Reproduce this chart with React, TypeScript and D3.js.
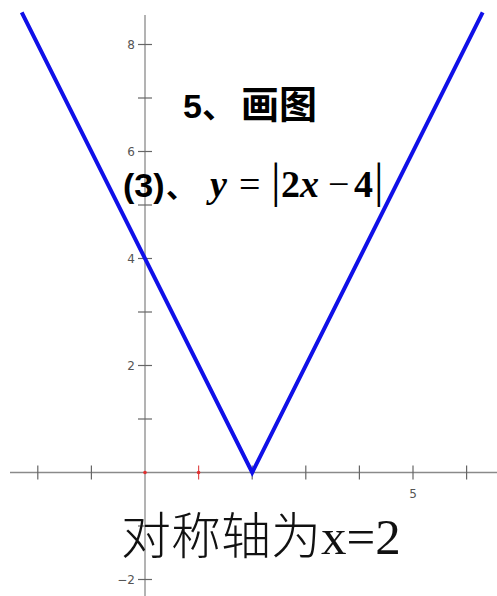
import * as d3 from "d3";
import { useEffect, useRef } from "react";

// graph of y = |2x - 4|
const lineX = [-2.3, 2, 6.3];
const lineY = [8.6, 0, 8.6];
const xTicks = [-2, -1, 1, 2, 3, 4, 5, 6];
const yTicks = [-2, -1, 1, 2, 3, 4, 5, 6, 7, 8];
const xLabels = [5];
const yLabels = [-2, 2, 4, 6, 8];
const redPoints = [0, 1];

const W = 497;
const H = 596;

export default function App() {
    const axisRef = useRef<SVGGElement>(null);

    const x = d3.scaleLinear().domain([0, 1]).range([145, 198.6]);
    const y = d3.scaleLinear().domain([0, 1]).range([472.5, 419]);

    const line = d3.line<number>()
        .x(d => x(lineX[d]))
        .y(d => y(lineY[d]));

    useEffect(() => {
        document.body.style.margin = "0";
        const g = d3.select(axisRef.current);
        g.selectAll("*").remove();
        const grey = "#8a8a8a";

        // x axis
        g.append("line")
            .attr("x1", 10).attr("x2", W)
            .attr("y1", y(0)).attr("y2", y(0))
            .attr("stroke", grey).attr("stroke-width", 1.3);
        g.selectAll(".xt").data(xTicks).join("line")
            .attr("x1", d => x(d)).attr("x2", d => x(d))
            .attr("y1", y(0) - 7).attr("y2", y(0) + 7)
            .attr("stroke", d => (d === 1 ? "#e05050" : "#666")).attr("stroke-width", 1.2);
        g.selectAll(".xl").data(xLabels).join("text")
            .attr("x", d => x(d)).attr("y", y(0) + 25)
            .attr("text-anchor", "middle")
            .attr("font-family", "DejaVu Sans, sans-serif").attr("font-size", 12)
            .attr("fill", "#555")
            .text(d => d);

        // y axis
        g.append("line")
            .attr("x1", x(0)).attr("x2", x(0))
            .attr("y1", 15).attr("y2", H)
            .attr("stroke", grey).attr("stroke-width", 1.3);
        g.selectAll(".yt").data(yTicks).join("line")
            .attr("x1", x(0) - 7).attr("x2", x(0) + 7)
            .attr("y1", d => y(d)).attr("y2", d => y(d))
            .attr("stroke", "#666").attr("stroke-width", 1.2);
        g.selectAll(".yl").data(yLabels).join("text")
            .attr("x", x(0) - 10).attr("y", d => y(d) + 4.5)
            .attr("text-anchor", "end")
            .attr("font-family", "DejaVu Sans, sans-serif").attr("font-size", 12)
            .attr("fill", "#555")
            .text(d => (d < 0 ? "\u2212" + Math.abs(d) : d));

        g.selectAll(".rp").data(redPoints).join("circle")
            .attr("cx", d => x(d)).attr("cy", y(0)).attr("r", 1.8)
            .attr("fill", "#e03030");
    }, []);

    return (
        <div style={{ position: "absolute", left: 0, top: 0 }}>
            <svg width={W} height={H} style={{ display: "block", background: "#fff" }}>
                <g ref={axisRef} />
                <path
                    d={line(d3.range(lineX.length)) || ""}
                    fill="none"
                    stroke="#1010e8"
                    strokeWidth={4}
                    strokeLinejoin="miter"
                />
                <text y={118} fill="#000" fontWeight="bold">
                    <tspan x={183} fontFamily="Liberation Sans, sans-serif" fontSize={34}>5</tspan>
                    <tspan x={202} fontFamily="Noto Sans CJK SC" fontSize={34}>、</tspan>
                    <tspan x={241} fontFamily="Noto Sans CJK SC" fontSize={38}>画图</tspan>
                </text>
                <text y={197} fill="#000" fontWeight="bold">
                    <tspan x={123} fontFamily="Liberation Sans, sans-serif" fontSize={34}>(3)</tspan>
                    <tspan x={166} fontFamily="Noto Sans CJK SC" fontSize={30}>、</tspan>
                    <tspan x={210} fontFamily="Liberation Serif, serif" fontStyle="italic" fontSize={38}>y</tspan>
                    <tspan x={239} fontFamily="Liberation Serif, serif" fontWeight="normal" fontSize={38}>=</tspan>
                    <tspan x={271} fontFamily="Liberation Serif, serif" fontWeight="normal" fontSize={48}>|</tspan>
                    <tspan x={281} fontFamily="Liberation Serif, serif" fontSize={38}>2</tspan>
                    <tspan x={300} fontFamily="Liberation Serif, serif" fontStyle="italic" fontSize={38}>x</tspan>
                    <tspan x={328} fontFamily="Liberation Serif, serif" fontWeight="normal" fontSize={38}>−</tspan>
                    <tspan x={354} fontFamily="Liberation Serif, serif" fontSize={38}>4</tspan>
                    <tspan x={374} fontFamily="Liberation Serif, serif" fontWeight="normal" fontSize={48}>|</tspan>
                </text>
                <text y={554} fill="#111">
                    <tspan x={121} fontFamily="Noto Sans CJK SC" fontWeight={300} fontSize={50}>对称轴为</tspan>
                    <tspan fontFamily="Liberation Serif, serif" fontSize={51}>x=2</tspan>
                </text>
            </svg>
        </div>
    );
}
